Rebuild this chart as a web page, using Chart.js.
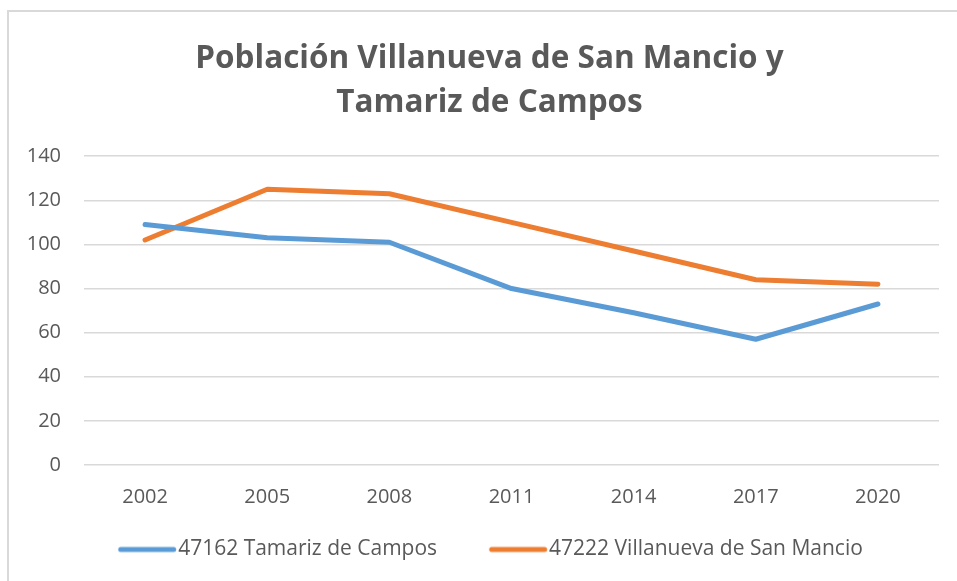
<!DOCTYPE html>
<html>
<head>
<meta charset="utf-8">
<script src="https://cdn.jsdelivr.net/npm/chart.js@4/dist/chart.umd.min.js"></script>
<style>
  html, body { margin: 0; padding: 0; background: #ffffff; }
  #wrap { position: absolute; left: 0; top: 0; width: 957px; height: 581px; }
</style>
</head>
<body>
<div id="wrap"><canvas id="c" width="957" height="581"></canvas></div>
<script>
const titleLines = ["Población Villanueva de San Mancio y", "Tamariz de Campos"];
const years = ["2002", "2005", "2008", "2011", "2014", "2017", "2020"];
const tamarizLabel = "47162 Tamariz de Campos";
const tamarizValues = [109, 103, 101, 80, 69, 57, 73];
const villanuevaLabel = "47222 Villanueva de San Mancio";
const villanuevaValues = [102, 125, 123, 110, 97, 84, 82];
const yTicks = [0, 20, 40, 60, 80, 100, 120, 140];

const textColor = "#595959";
const gridColor = "#d9d9d9";
const blue = "#5B9BD5";
const orange = "#ED7D31";
const fontFamily = "'Open Sans', 'Liberation Sans', sans-serif";

// legend sample: a short thick line sitting just before the label text
const LEG_BOX = 91.5;
function legendSample(color) {
  const c = document.createElement("canvas");
  c.width = 110;
  c.height = 8;
  const g = c.getContext("2d");
  g.strokeStyle = color;
  g.lineWidth = 5;
  g.lineCap = "round";
  g.beginPath();
  g.moveTo(53.75, 4);
  g.lineTo(106.75, 4);
  g.stroke();
  return c;
}
const legendSamples = [legendSample(blue), legendSample(orange)];

const frame = {
  id: "frame",
  beforeDraw(chart) {
    const ctx = chart.ctx;
    ctx.save();
    ctx.fillStyle = "#ffffff";
    ctx.fillRect(0, 0, chart.width, chart.height);
    ctx.strokeStyle = gridColor;
    ctx.lineWidth = 2;
    ctx.strokeRect(8, 11, 1200, 1200);
    ctx.restore();
  },
  afterLayout(chart) {
    // nudge the centred legend row slightly to the left
    if (chart.legend) {
      chart.legend.right -= 40;
      chart.legend.width -= 40;
    }
  }
};

new Chart(document.getElementById("c"), {
  type: "line",
  data: {
    labels: years,
    datasets: [
      {
        label: tamarizLabel,
        data: tamarizValues,
        borderColor: blue,
        backgroundColor: blue,
        borderWidth: 5,
        borderCapStyle: "round",
        borderJoinStyle: "round",
        pointRadius: 0,
        pointHoverRadius: 0,
        tension: 0
      },
      {
        label: villanuevaLabel,
        data: villanuevaValues,
        borderColor: orange,
        backgroundColor: orange,
        borderWidth: 5,
        borderCapStyle: "round",
        borderJoinStyle: "round",
        pointRadius: 0,
        pointHoverRadius: 0,
        tension: 0
      }
    ]
  },
  options: {
    responsive: false,
    animation: false,
    events: [],
    layout: { padding: { left: 24, right: 2, top: 0, bottom: 11 } },
    plugins: {
      title: {
        display: true,
        text: titleLines,
        color: textColor,
        font: { family: fontFamily, size: 31.5, weight: "bold", lineHeight: 1.4 },
        padding: { top: 37, bottom: 31 }
      },
      legend: {
        position: "bottom",
        labels: {
          color: textColor,
          font: { family: fontFamily, size: 21 },
          usePointStyle: true,
          pointStyleWidth: LEG_BOX,
          padding: 10,
          generateLabels(chart) {
            const items = Chart.defaults.plugins.legend.labels.generateLabels(chart);
            items.forEach((it, i) => { it.pointStyle = legendSamples[i]; });
            return items;
          }
        }
      },
      tooltip: { enabled: false }
    },
    scales: {
      x: {
        offset: true,
        grid: { display: false, drawTicks: false },
        border: { display: false },
        ticks: { color: textColor, font: { family: fontFamily, size: 20 }, padding: 20, maxRotation: 0, autoSkip: false }
      },
      y: {
        min: 0,
        max: 140,
        afterBuildTicks(scale) { scale.ticks = yTicks.map(v => ({ value: v })); },
        grid: { color: gridColor, lineWidth: 1.5, drawTicks: false },
        border: { display: false },
        ticks: { color: textColor, font: { family: fontFamily, size: 20 }, padding: 23 },
        afterFit(scale) { scale.width = 60; }
      },
      yRightSpace: {
        position: "right",
        display: true,
        grid: { display: false, drawTicks: false },
        border: { display: false },
        ticks: { display: false },
        afterFit(scale) { scale.width = 16; }
      }
    }
  },
  plugins: [frame]
});
</script>
</body>
</html>
